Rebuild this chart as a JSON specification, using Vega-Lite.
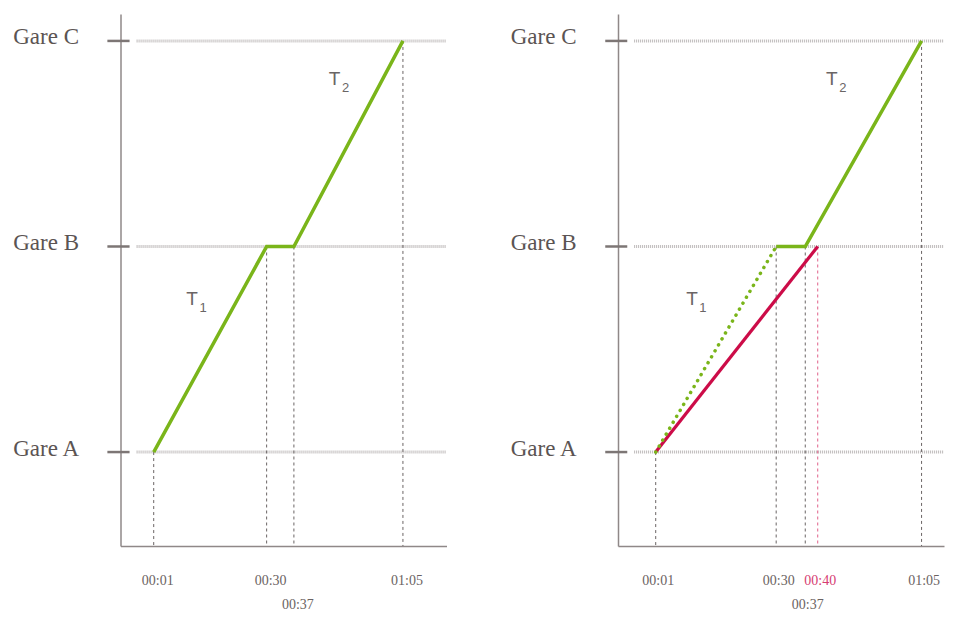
{
  "$schema": "https://vega.github.io/schema/vega-lite/v6.json",
  "padding": {"left": 10.5, "top": 14, "right": 0, "bottom": 0},
  "background": "white",
  "config": {"view": {"stroke": null}, "axis": {"grid": false, "ticks": false, "domainColor": "#8f8888", "domainWidth": 1.5, "title": null}},
  "datasets": {
    "gares": [{"v": 0, "gare": "Gare A"}, {"v": 1, "gare": "Gare B"}, {"v": 2, "gare": "Gare C"}],
    "trajets": [
      {"panel": "avant", "course": "prévue", "t": 1, "v": 0},
      {"panel": "avant", "course": "prévue", "t": 30, "v": 1},
      {"panel": "avant", "course": "prévue", "t": 37, "v": 1},
      {"panel": "avant", "course": "prévue", "t": 65, "v": 2},
      {"panel": "après", "course": "prévue T1", "t": 1, "v": 0},
      {"panel": "après", "course": "prévue T1", "t": 30, "v": 1},
      {"panel": "après", "course": "prévue", "t": 30, "v": 1},
      {"panel": "après", "course": "prévue", "t": 37, "v": 1},
      {"panel": "après", "course": "prévue", "t": 65, "v": 2},
      {"panel": "après", "course": "retardée", "t": 1, "v": 0},
      {"panel": "après", "course": "retardée", "t": 40, "v": 1}
    ],
    "reperes": [
      {"panel": "avant", "course": "prévue", "t": 1, "v": 0},
      {"panel": "avant", "course": "prévue", "t": 30, "v": 1},
      {"panel": "avant", "course": "prévue", "t": 37, "v": 1},
      {"panel": "avant", "course": "prévue", "t": 65, "v": 2},
      {"panel": "après", "course": "prévue", "t": 1, "v": 0},
      {"panel": "après", "course": "prévue", "t": 30, "v": 1},
      {"panel": "après", "course": "prévue", "t": 37, "v": 1},
      {"panel": "après", "course": "prévue", "t": 65, "v": 2},
      {"panel": "après", "course": "retardée", "t": 40, "v": 1}
    ],
    "etiquettes": [
      {"panel": "avant", "lettre": "T", "indice": "1", "t": 10.83, "v": 0.715},
      {"panel": "avant", "lettre": "T", "indice": "2", "t": 47.43, "v": 1.786},
      {"panel": "après", "lettre": "T", "indice": "1", "t": 9.73, "v": 0.715},
      {"panel": "après", "lettre": "T", "indice": "2", "t": 43.4, "v": 1.786}
    ]
  },
  "spacing": 59.5,
  "hconcat": [
    {
      "width": 326,
      "height": 532,
      "layer": [
        {
          "data": {"name": "gares"},
          "mark": {"type": "rule", "color": "#bdb9b9", "strokeWidth": 3, "strokeDash": [1, 1]},
          "encoding": {
            "x": {"datum": -3.4, "type": "quantitative",
              "scale": {"domain": [-7.53, 76.19], "nice": false, "zero": false},
              "axis": {"values": [1, 30, 37, 65], "labelExpr": "(floor(datum.value/60) < 10 ? '0' : '') + floor(datum.value/60) + ':' + (datum.value % 60 < 10 ? '0' : '') + (datum.value % 60)",
                "labelFont": "Liberation Serif", "labelFontSize": 14, "labelColor": "#6b6362", "labelBaseline": "middle", "labelOffset": 3.5,
                "labelPadding": {"condition": {"test": "datum.value == 37", "value": 58}, "value": 34},
                "labelOverlap": false, "labelFlush": false, "title": null}},
            "x2": {"datum": 76.19},
            "y": {"field": "v", "type": "quantitative",
              "scale": {"domain": [-0.457, 2.131], "nice": false, "zero": false},
              "axis": {"values": [0, 1, 2], "labelExpr": "datum.value == 0 ? 'Gare A' : datum.value == 1 ? 'Gare B' : 'Gare C'",
                "labelFont": "Liberation Serif", "labelFontSize": 23, "labelColor": "#5b5453", "labelPadding": 42,
                "labelBaseline": "alphabetic", "labelOffset": 3, "labelOverlap": false, "labelFlush": false, "title": null}}
          }
        },
        {
          "data": {"name": "gares"},
          "mark": {"type": "rule", "color": "#7d7675", "strokeWidth": 2.5},
          "encoding": {
            "x": {"datum": -10.9, "type": "quantitative"},
            "x2": {"datum": -5.2},
            "y": {"field": "v", "type": "quantitative"}
          }
        },
        {
          "data": {"name": "reperes"},
          "transform": [{"filter": "datum.panel == 'avant'"}],
          "mark": {"type": "rule", "color": "#6a6464", "strokeWidth": 1, "strokeDash": [3, 3]},
          "encoding": {
            "x": {"field": "t", "type": "quantitative"},
            "y": {"field": "v", "type": "quantitative"},
            "y2": {"datum": -0.457}
          }
        },
        {
          "data": {"name": "trajets"},
          "transform": [{"filter": "datum.panel == 'avant'"}],
          "mark": {"type": "line", "color": "#7ab51a", "strokeWidth": 3.5},
          "encoding": {
            "x": {"field": "t", "type": "quantitative"},
            "y": {"field": "v", "type": "quantitative"},
            "order": {"field": "t"}
          }
        },
        {
          "data": {"name": "etiquettes"},
          "transform": [{"filter": "datum.panel == 'avant'"}],
          "mark": {"type": "text", "font": "Liberation Sans", "fontSize": 19, "color": "#6a6565", "align": "center", "baseline": "alphabetic"},
          "encoding": {
            "x": {"field": "t", "type": "quantitative"},
            "y": {"field": "v", "type": "quantitative"},
            "text": {"field": "lettre"}
          }
        },
        {
          "data": {"name": "etiquettes"},
          "transform": [{"filter": "datum.panel == 'avant'"}],
          "mark": {"type": "text", "font": "Liberation Sans", "fontSize": 13, "color": "#6a6565", "align": "center", "baseline": "alphabetic", "dx": 11, "dy": 7},
          "encoding": {
            "x": {"field": "t", "type": "quantitative"},
            "y": {"field": "v", "type": "quantitative"},
            "text": {"field": "indice"}
          }
        }
      ]
    },
    {
      "width": 326,
      "height": 532,
      "layer": [
        {
          "data": {"name": "gares"},
          "mark": {"type": "rule", "color": "#bdb9b9", "strokeWidth": 3, "strokeDash": [1, 1]},
          "encoding": {
            "x": {"datum": -4.2, "type": "quantitative",
              "scale": {"domain": [-8.08, 70.4], "nice": false, "zero": false},
              "axis": {"values": [1, 30, 37, 40, 65], "labelExpr": "(floor(datum.value/60) < 10 ? '0' : '') + floor(datum.value/60) + ':' + (datum.value % 60 < 10 ? '0' : '') + (datum.value % 60)",
                "labelFont": "Liberation Serif", "labelFontSize": 14, "labelBaseline": "middle", "labelOffset": 2,
                "labelColor": {"condition": {"test": "datum.value == 40", "value": "#d63d72"}, "value": "#6b6362"},
                "labelPadding": {"condition": {"test": "datum.value == 37", "value": 58}, "value": 34},
                "labelOverlap": false, "labelFlush": false, "title": null}},
            "x2": {"datum": 70.4},
            "y": {"field": "v", "type": "quantitative",
              "scale": {"domain": [-0.457, 2.131], "nice": false, "zero": false},
              "axis": {"values": [0, 1, 2], "labelExpr": "datum.value == 0 ? 'Gare A' : datum.value == 1 ? 'Gare B' : 'Gare C'",
                "labelFont": "Liberation Serif", "labelFontSize": 23, "labelColor": "#5b5453", "labelPadding": 42,
                "labelBaseline": "alphabetic", "labelOffset": 3, "labelOverlap": false, "labelFlush": false, "title": null}}
          }
        },
        {
          "data": {"name": "gares"},
          "mark": {"type": "rule", "color": "#7d7675", "strokeWidth": 2.5},
          "encoding": {
            "x": {"datum": -11.15, "type": "quantitative"},
            "x2": {"datum": -5.85},
            "y": {"field": "v", "type": "quantitative"}
          }
        },
        {
          "data": {"name": "reperes"},
          "transform": [{"filter": "datum.panel == 'après' && datum.course == 'prévue'"}],
          "mark": {"type": "rule", "color": "#6a6464", "strokeWidth": 1, "strokeDash": [3, 3]},
          "encoding": {
            "x": {"field": "t", "type": "quantitative"},
            "y": {"field": "v", "type": "quantitative"},
            "y2": {"datum": -0.457}
          }
        },
        {
          "data": {"name": "reperes"},
          "transform": [{"filter": "datum.panel == 'après' && datum.course == 'retardée'"}],
          "mark": {"type": "rule", "color": "#e0608a", "strokeWidth": 1, "strokeDash": [3, 3]},
          "encoding": {
            "x": {"field": "t", "type": "quantitative"},
            "y": {"field": "v", "type": "quantitative"},
            "y2": {"datum": -0.457}
          }
        },
        {
          "data": {"name": "trajets"},
          "transform": [{"filter": "datum.panel == 'après' && datum.course == 'retardée'"}],
          "mark": {"type": "line", "color": "#cc0c48", "strokeWidth": 3.2},
          "encoding": {
            "x": {"field": "t", "type": "quantitative"},
            "y": {"field": "v", "type": "quantitative"},
            "order": {"field": "t"}
          }
        },
        {
          "data": {"name": "trajets"},
          "transform": [{"filter": "datum.panel == 'après' && datum.course == 'prévue T1'"}],
          "mark": {"type": "line", "color": "#7ab51a", "strokeWidth": 3.5, "strokeDash": [0.1, 6.8], "strokeCap": "round"},
          "encoding": {
            "x": {"field": "t", "type": "quantitative"},
            "y": {"field": "v", "type": "quantitative"},
            "order": {"field": "t"}
          }
        },
        {
          "data": {"name": "trajets"},
          "transform": [{"filter": "datum.panel == 'après' && datum.course == 'prévue'"}],
          "mark": {"type": "line", "color": "#7ab51a", "strokeWidth": 3.5},
          "encoding": {
            "x": {"field": "t", "type": "quantitative"},
            "y": {"field": "v", "type": "quantitative"},
            "order": {"field": "t"}
          }
        },
        {
          "data": {"name": "etiquettes"},
          "transform": [{"filter": "datum.panel == 'après'"}],
          "mark": {"type": "text", "font": "Liberation Sans", "fontSize": 19, "color": "#6a6565", "align": "center", "baseline": "alphabetic"},
          "encoding": {
            "x": {"field": "t", "type": "quantitative"},
            "y": {"field": "v", "type": "quantitative"},
            "text": {"field": "lettre"}
          }
        },
        {
          "data": {"name": "etiquettes"},
          "transform": [{"filter": "datum.panel == 'après'"}],
          "mark": {"type": "text", "font": "Liberation Sans", "fontSize": 13, "color": "#6a6565", "align": "center", "baseline": "alphabetic", "dx": 11, "dy": 7},
          "encoding": {
            "x": {"field": "t", "type": "quantitative"},
            "y": {"field": "v", "type": "quantitative"},
            "text": {"field": "indice"}
          }
        }
      ]
    }
  ]
}
